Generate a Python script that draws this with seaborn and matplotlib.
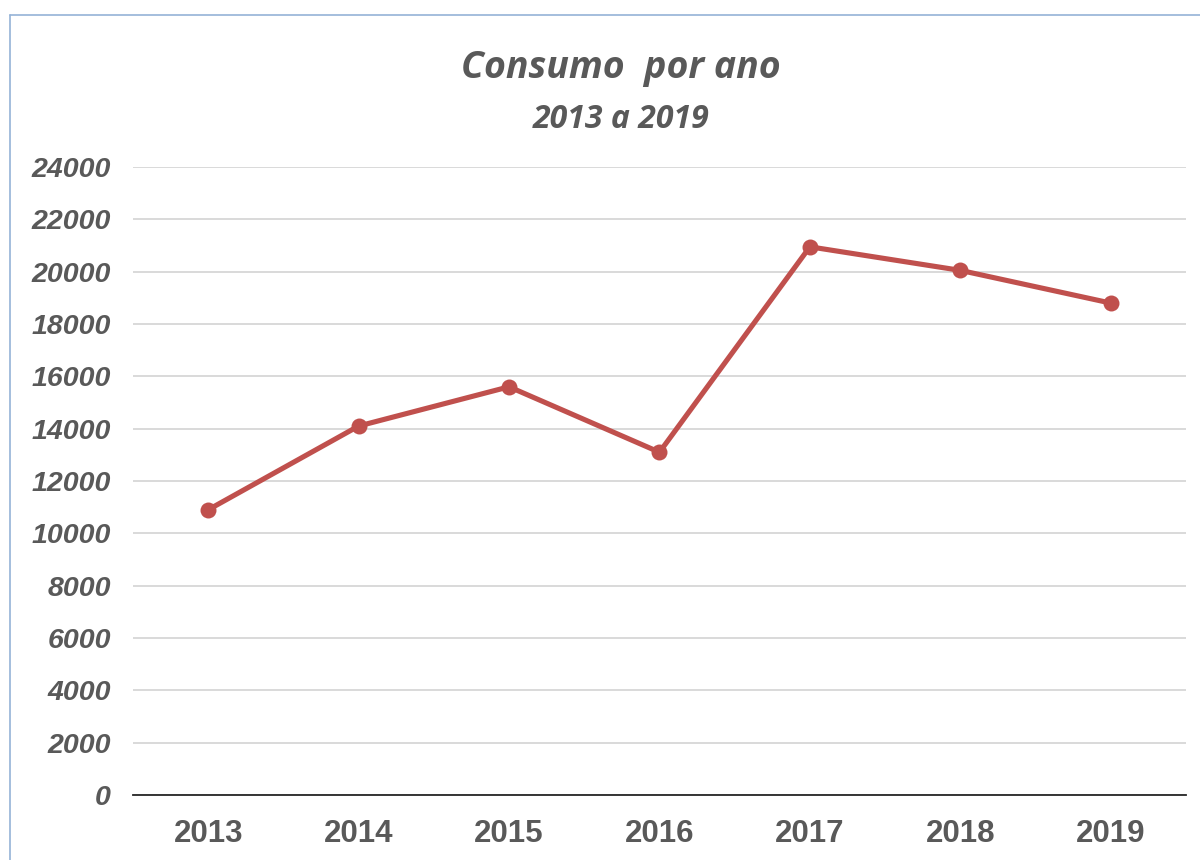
import matplotlib
matplotlib.use("Agg")
import seaborn as sns
import pandas as pd
import matplotlib.pyplot as plt
from matplotlib.lines import Line2D

anos = ["2013", "2014", "2015", "2016", "2017", "2018", "2019"]
consumo = [10900, 14100, 15600, 13100, 20950, 20050, 18800]
yticks = list(range(0, 24001, 2000))

sns.set_style("white")
plt.rcParams["font.family"] = ["Liberation Sans", "DejaVu Sans"]

df = pd.DataFrame({"ano": anos, "consumo": consumo})

fig = plt.figure(figsize=(12, 8.6), dpi=100)
ax = fig.add_axes([0.1108, 0.0756, 0.8775, 0.7302])

sns.lineplot(data=df, x="ano", y="consumo", ax=ax, color="#C0504D",
             linewidth=3.7, marker="o", markersize=11.5, markeredgewidth=0,
             zorder=3)

ax.set_xlim(-0.5, 6.5)
ax.set_ylim(0, 24000)
ax.set_yticks(yticks)
ax.set_yticklabels([str(v) for v in yticks], fontsize=20.5, fontweight="bold",
                   fontstyle="italic", color="#595959")
ax.set_xticks(range(len(anos)))
ax.set_xticklabels(anos, fontsize=22.5, fontweight="bold", color="#595959")
ax.tick_params(axis="y", length=0, pad=16)
ax.tick_params(axis="x", length=0, pad=17)
ax.grid(axis="y", color="#D9D9D9", linewidth=1.4)
ax.set_axisbelow(True)
for s in ["top", "right", "left"]:
    ax.spines[s].set_visible(False)
ax.spines["bottom"].set_color("#262626")
ax.spines["bottom"].set_linewidth(1.3)
ax.set_xlabel("")
ax.set_ylabel("")

fig.text(0.5175, 0.9093, "Consumo  por ano", ha="center", va="baseline",
         fontsize=27, fontweight="bold", fontstyle="italic", color="#595959",
         family=["Open Sans", "DejaVu Sans"])
fig.text(0.5175, 0.8512, "2013 a 2019", ha="center", va="baseline",
         fontsize=23, fontweight="bold", fontstyle="italic", color="#595959",
         family=["Open Sans", "DejaVu Sans"])

# moldura
fig.add_artist(Line2D([0.0083, 0.0083], [0.0, 0.9826], color="#95B3D7",
                      linewidth=1.2, transform=fig.transFigure))
fig.add_artist(Line2D([0.0083, 1.0], [0.9826, 0.9826], color="#95B3D7",
                      linewidth=1.2, transform=fig.transFigure))

fig.savefig("out.png", dpi=100)
